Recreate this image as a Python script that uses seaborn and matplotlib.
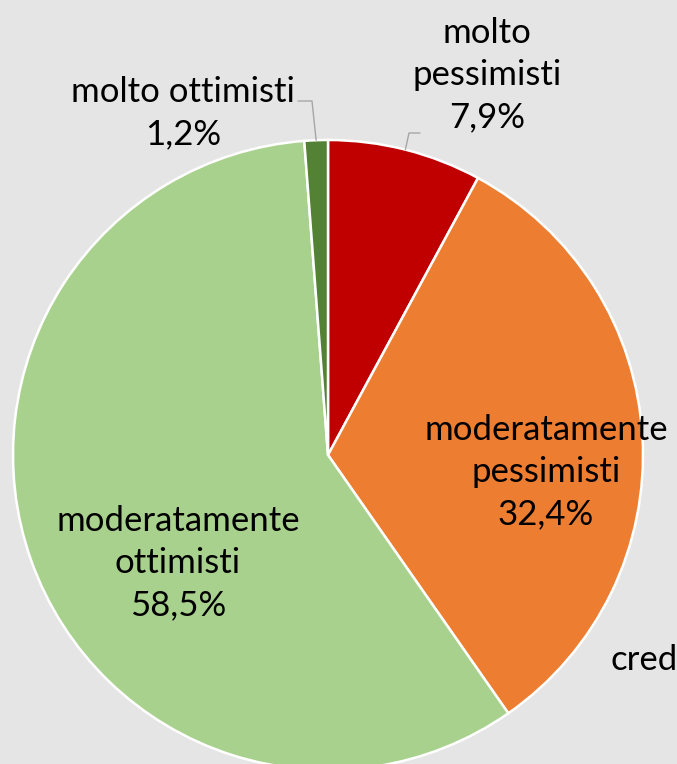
import numpy as np
import matplotlib
matplotlib.use("Agg")
import matplotlib.pyplot as plt
import seaborn as sns

# dati del grafico
categorie = ["molto pessimisti", "moderatamente pessimisti",
             "moderatamente ottimisti", "molto ottimisti"]
etichette = ["molto\npessimisti", "moderatamente\npessimisti",
             "moderatamente\nottimisti", "molto ottimisti"]
percentuali = [7.9, 32.4, 58.5, 1.2]
colori = ["#c00000", "#ed7d31", "#a9d18e", "#548235"]

sfondo = "#e5e5e5"
sns.set_style("white")
plt.rcParams["font.family"] = ["Lato", "DejaVu Sans"]

fig = plt.figure(figsize=(6.77, 7.64), dpi=100, facecolor=sfondo)
ax = fig.add_axes([0, 0, 1, 1])
ax.set_facecolor(sfondo)

# 1 unità = 1 pixel, centro della torta in (328, 455)
R = 315
wedges, _ = ax.pie(percentuali, colors=colori, startangle=90, counterclock=False,
                   radius=R, wedgeprops=dict(edgecolor="white", linewidth=1.8))
ax.set_xlim(-328, 677 - 328)
ax.set_ylim(-(764 - 455), 455)
ax.set_aspect("equal")
ax.axis("off")

def fmt(v):
    return f"{v:.1f}%".replace(".", ",")

fs = 25
ls = 1.4
# etichette interne
for i, (x, y) in {1: (546 - 328, 455 - 472), 2: (178 - 328, 455 - 563)}.items():
    ax.text(x, y, f"{etichette[i]}\n{fmt(percentuali[i])}", ha="center", va="center",
            fontsize=fs, linespacing=ls, color="black")

# etichette esterne con linee guida
def punto_medio(w):
    a = np.deg2rad((w.theta1 + w.theta2) / 2)
    return R * np.cos(a), R * np.sin(a)

x0, y0 = punto_medio(wedges[0])
ax.plot([x0, 409 - 328, 420 - 328], [y0, 455 - 133, 455 - 133], color="#a6a6a6", lw=1)
ax.text(487 - 328, 455 - 75, f"{etichette[0]}\n{fmt(percentuali[0])}", ha="center",
        va="center", fontsize=fs, linespacing=ls, color="black")

x3, y3 = punto_medio(wedges[3])
ax.plot([x3, 312 - 328, 298 - 328], [y3, 455 - 101, 455 - 101], color="#a6a6a6", lw=1)
ax.text(183 - 328, 455 - 113, f"{etichette[3]}\n{fmt(percentuali[3])}", ha="center",
        va="center", fontsize=fs, linespacing=ls, color="black")

ax.text(610 - 328, 455 - 660, "cred", ha="left", va="center", fontsize=fs, color="black")

fig.savefig("out.png", dpi=100, facecolor=sfondo)
